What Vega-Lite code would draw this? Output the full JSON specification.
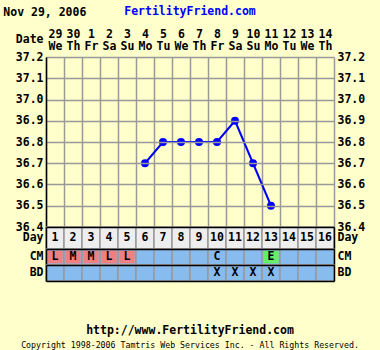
{
  "$schema": "https://vega.github.io/schema/vega-lite/v6.json",
  "autosize": "none",
  "padding": {"left": 46, "top": 57, "right": 334, "bottom": 293},
  "background": "#ffffcc",
  "config": {
    "font": "DejaVu Sans Mono",
    "view": {"stroke": null},
    "axis": {"labelFont": "DejaVu Sans Mono", "labelFontSize": 11.5, "labelFontWeight": "bold", "labelColor": "#000000", "titleFont": "DejaVu Sans Mono", "titleFontSize": 11.5, "titleFontWeight": "bold", "titleColor": "#000000", "ticks": false, "tickSize": 0, "domain": false, "grid": false, "labelAngle": 0},
    "title": {"font": "DejaVu Sans Mono", "fontSize": 11.5, "fontWeight": "bold", "color": "#000000", "subtitleFont": "DejaVu Sans Mono", "subtitleFontSize": 8.25, "subtitleColor": "#000000"},
    "text": {"font": "DejaVu Sans Mono", "fontSize": 11.5, "fontWeight": "bold", "color": "#000000"}
  },
  "datasets": {
    "days": [
      {"day": 1, "col": "29 We", "temp": null, "cm": "L", "bd": null},
      {"day": 2, "col": "30 Th", "temp": null, "cm": "M", "bd": null},
      {"day": 3, "col": "1 Fr", "temp": null, "cm": "M", "bd": null},
      {"day": 4, "col": "2 Sa", "temp": null, "cm": "L", "bd": null},
      {"day": 5, "col": "3 Su", "temp": null, "cm": "L", "bd": null},
      {"day": 6, "col": "4 Mo", "temp": 36.7, "cm": null, "bd": null},
      {"day": 7, "col": "5 Tu", "temp": 36.8, "cm": null, "bd": null},
      {"day": 8, "col": "6 We", "temp": 36.8, "cm": null, "bd": null},
      {"day": 9, "col": "7 Th", "temp": 36.8, "cm": null, "bd": null},
      {"day": 10, "col": "8 Fr", "temp": 36.8, "cm": "C", "bd": "X"},
      {"day": 11, "col": "9 Sa", "temp": 36.9, "cm": null, "bd": "X"},
      {"day": 12, "col": "10 Su", "temp": 36.7, "cm": null, "bd": "X"},
      {"day": 13, "col": "11 Mo", "temp": 36.5, "cm": "E", "bd": "X"},
      {"day": 14, "col": "12 Tu", "temp": null, "cm": null, "bd": null},
      {"day": 15, "col": "13 We", "temp": null, "cm": null, "bd": null},
      {"day": 16, "col": "14 Th", "temp": null, "cm": null, "bd": null}
    ]
  },
  "title": {"text": "Nov 29, 2006", "anchor": "start", "dx": -12, "dy": 17},
  "spacing": 0,
  "bounds": "flush",
  "vconcat": [
    {
      "width": 288,
      "height": 170,
      "title": {"text": "FertilityFriend.com", "color": "#0000ff", "anchor": "middle", "offset": 11},
      "data": {"name": "days"},
      "transform": [{"filter": "isValid(datum.temp)"}],
      "layer": [
        {
          "mark": {"type": "line", "color": "#0000ff", "strokeWidth": 2},
          "encoding": {
            "x": {"field": "col", "type": "ordinal", "scale": {"type": "band", "domain": ["29 We","30 Th","1 Fr","2 Sa","3 Su","4 Mo","5 Tu","6 We","7 Th","8 Fr","9 Sa","10 Su","11 Mo","12 Tu","13 We","14 Th"], "paddingInner": 0, "paddingOuter": 0},
              "axis": {"orient": "top", "tickBand": "extent", "grid": true, "gridColor": "#999999", "gridWidth": 1.5, "labelExpr": "isValid(datum.value) ? split(datum.value, ' ') : ''", "labelPadding": 18, "labelLineHeight": 12, "title": "Date", "titleX": -3, "titleY": -18, "titleAlign": "right", "titleBaseline": "middle", "titleAngle": 0}},
            "y": {"field": "temp", "type": "quantitative", "scale": {"domain": [36.4, 37.2], "zero": false, "nice": false},
              "axis": {"orient": "left", "values": [36.4, 36.5, 36.6, 36.7, 36.8, 36.9, 37.0, 37.1, 37.2], "format": ".1f", "grid": true, "gridColor": "#999999", "gridWidth": 1.5, "domain": true, "domainColor": "#000000", "domainWidth": 1.5, "labelPadding": 3, "title": null, "zindex": 1}}
          }
        },
        {
          "mark": {"type": "point", "filled": true, "color": "#0000ff", "size": 64, "opacity": 1},
          "encoding": {
            "x": {"field": "col", "type": "ordinal", "scale": {"type": "band", "domain": ["29 We","30 Th","1 Fr","2 Sa","3 Su","4 Mo","5 Tu","6 We","7 Th","8 Fr","9 Sa","10 Su","11 Mo","12 Tu","13 We","14 Th"], "paddingInner": 0, "paddingOuter": 0}, "axis": null},
            "y": {"field": "temp", "type": "quantitative", "scale": {"domain": [36.4, 37.2], "zero": false, "nice": false},
              "axis": {"orient": "right", "values": [36.4, 36.5, 36.6, 36.7, 36.8, 36.9, 37.0, 37.1, 37.2], "format": ".1f", "labelPadding": 3, "title": null}}
          }
        }
      ],
      "resolve": {"axis": {"x": "independent", "y": "independent"}}
    },
    {
      "width": 288,
      "height": 22,
      "data": {"name": "days"},
      "layer": [
        {
          "mark": {"type": "rect", "fill": "#eeeeee", "stroke": "#999999", "strokeWidth": 1.5},
          "encoding": {
            "x": {"field": "col", "type": "ordinal", "scale": {"type": "band", "domain": ["29 We","30 Th","1 Fr","2 Sa","3 Su","4 Mo","5 Tu","6 We","7 Th","8 Fr","9 Sa","10 Su","11 Mo","12 Tu","13 We","14 Th"], "paddingInner": 0, "paddingOuter": 0},
              "axis": {"orient": "top", "labels": false, "domain": true, "domainColor": "#000000", "domainWidth": 1.5, "title": null, "zindex": 1}},
            "y": {"datum": "Day", "type": "nominal", "scale": {"type": "band", "paddingInner": 0, "paddingOuter": 0},
              "axis": {"orient": "left", "domain": true, "domainColor": "#000000", "domainWidth": 1.5, "labelPadding": 3, "title": null, "zindex": 1}}
          }
        },
        {
          "mark": {"type": "text"},
          "encoding": {
            "x": {"field": "col", "type": "ordinal", "scale": {"type": "band", "domain": ["29 We","30 Th","1 Fr","2 Sa","3 Su","4 Mo","5 Tu","6 We","7 Th","8 Fr","9 Sa","10 Su","11 Mo","12 Tu","13 We","14 Th"], "paddingInner": 0, "paddingOuter": 0}, "axis": null},
            "y": {"datum": "Day", "type": "nominal", "scale": {"type": "band", "paddingInner": 0, "paddingOuter": 0},
              "axis": {"orient": "right", "domain": true, "domainColor": "#000000", "domainWidth": 1.5, "labelPadding": 3, "title": null, "zindex": 1}},
            "text": {"field": "day", "type": "nominal"}
          }
        }
      ],
      "resolve": {"axis": {"x": "independent", "y": "independent"}}
    },
    {
      "width": 288,
      "height": 16,
      "data": {"name": "days"},
      "layer": [
        {
          "mark": {"type": "rect", "fill": "#88bbee", "stroke": "#999999", "strokeWidth": 1.5},
          "encoding": {
            "x": {"field": "col", "type": "ordinal", "scale": {"type": "band", "domain": ["29 We","30 Th","1 Fr","2 Sa","3 Su","4 Mo","5 Tu","6 We","7 Th","8 Fr","9 Sa","10 Su","11 Mo","12 Tu","13 We","14 Th"], "paddingInner": 0, "paddingOuter": 0},
              "axis": {"orient": "top", "labels": false, "domain": true, "domainColor": "#000000", "domainWidth": 1.5, "title": null, "zindex": 1}},
            "y": {"datum": "CM", "type": "nominal", "scale": {"type": "band", "paddingInner": 0, "paddingOuter": 0},
              "axis": {"orient": "left", "domain": true, "domainColor": "#000000", "domainWidth": 1.5, "labelPadding": 3, "title": null, "zindex": 1}}
          }
        },
        {
          "transform": [{"filter": {"field": "cm", "oneOf": ["L", "M", "E"]}}],
          "mark": {"type": "rect", "width": {"band": 0.85}, "height": {"band": 0.8}},
          "encoding": {
            "x": {"field": "col", "type": "ordinal", "scale": {"type": "band", "domain": ["29 We","30 Th","1 Fr","2 Sa","3 Su","4 Mo","5 Tu","6 We","7 Th","8 Fr","9 Sa","10 Su","11 Mo","12 Tu","13 We","14 Th"], "paddingInner": 0, "paddingOuter": 0}, "axis": null},
            "y": {"datum": "CM", "type": "nominal", "scale": {"type": "band", "paddingInner": 0, "paddingOuter": 0}, "axis": null},
            "fill": {"field": "cm", "type": "nominal", "scale": {"domain": ["L", "M", "E"], "range": ["#f08080", "#f08080", "#66ee66"]}, "legend": null}
          }
        },
        {
          "transform": [{"filter": "isValid(datum.cm)"}],
          "mark": {"type": "text"},
          "encoding": {
            "x": {"field": "col", "type": "ordinal", "scale": {"type": "band", "domain": ["29 We","30 Th","1 Fr","2 Sa","3 Su","4 Mo","5 Tu","6 We","7 Th","8 Fr","9 Sa","10 Su","11 Mo","12 Tu","13 We","14 Th"], "paddingInner": 0, "paddingOuter": 0}, "axis": null},
            "y": {"datum": "CM", "type": "nominal", "scale": {"type": "band", "paddingInner": 0, "paddingOuter": 0},
              "axis": {"orient": "right", "domain": true, "domainColor": "#000000", "domainWidth": 1.5, "labelPadding": 3, "title": null, "zindex": 1}},
            "text": {"field": "cm", "type": "nominal"}
          }
        }
      ],
      "resolve": {"axis": {"x": "independent", "y": "independent"}}
    },
    {
      "width": 288,
      "height": 16,
      "title": {"text": "http://www.FertilityFriend.com", "subtitle": "Copyright 1998-2006 Tamtris Web Services Inc. - All Rights Reserved.", "orient": "bottom", "anchor": "middle", "offset": 43, "subtitlePadding": 5},
      "data": {"name": "days"},
      "layer": [
        {
          "mark": {"type": "rect", "fill": "#88bbee", "stroke": "#999999", "strokeWidth": 1.5},
          "encoding": {
            "x": {"field": "col", "type": "ordinal", "scale": {"type": "band", "domain": ["29 We","30 Th","1 Fr","2 Sa","3 Su","4 Mo","5 Tu","6 We","7 Th","8 Fr","9 Sa","10 Su","11 Mo","12 Tu","13 We","14 Th"], "paddingInner": 0, "paddingOuter": 0},
              "axis": {"orient": "top", "labels": false, "domain": true, "domainColor": "#000000", "domainWidth": 1.5, "title": null, "zindex": 1}},
            "y": {"datum": "BD", "type": "nominal", "scale": {"type": "band", "paddingInner": 0, "paddingOuter": 0},
              "axis": {"orient": "left", "domain": true, "domainColor": "#000000", "domainWidth": 1.5, "labelPadding": 3, "title": null, "zindex": 1}}
          }
        },
        {
          "transform": [{"filter": "isValid(datum.bd)"}],
          "mark": {"type": "text"},
          "encoding": {
            "x": {"field": "col", "type": "ordinal", "scale": {"type": "band", "domain": ["29 We","30 Th","1 Fr","2 Sa","3 Su","4 Mo","5 Tu","6 We","7 Th","8 Fr","9 Sa","10 Su","11 Mo","12 Tu","13 We","14 Th"], "paddingInner": 0, "paddingOuter": 0},
              "axis": {"orient": "bottom", "labels": false, "domain": true, "domainColor": "#000000", "domainWidth": 1.5, "title": null, "zindex": 1}},
            "y": {"datum": "BD", "type": "nominal", "scale": {"type": "band", "paddingInner": 0, "paddingOuter": 0},
              "axis": {"orient": "right", "domain": true, "domainColor": "#000000", "domainWidth": 1.5, "labelPadding": 3, "title": null, "zindex": 1}},
            "text": {"field": "bd", "type": "nominal"}
          }
        }
      ],
      "resolve": {"axis": {"x": "independent", "y": "independent"}}
    }
  ]
}
